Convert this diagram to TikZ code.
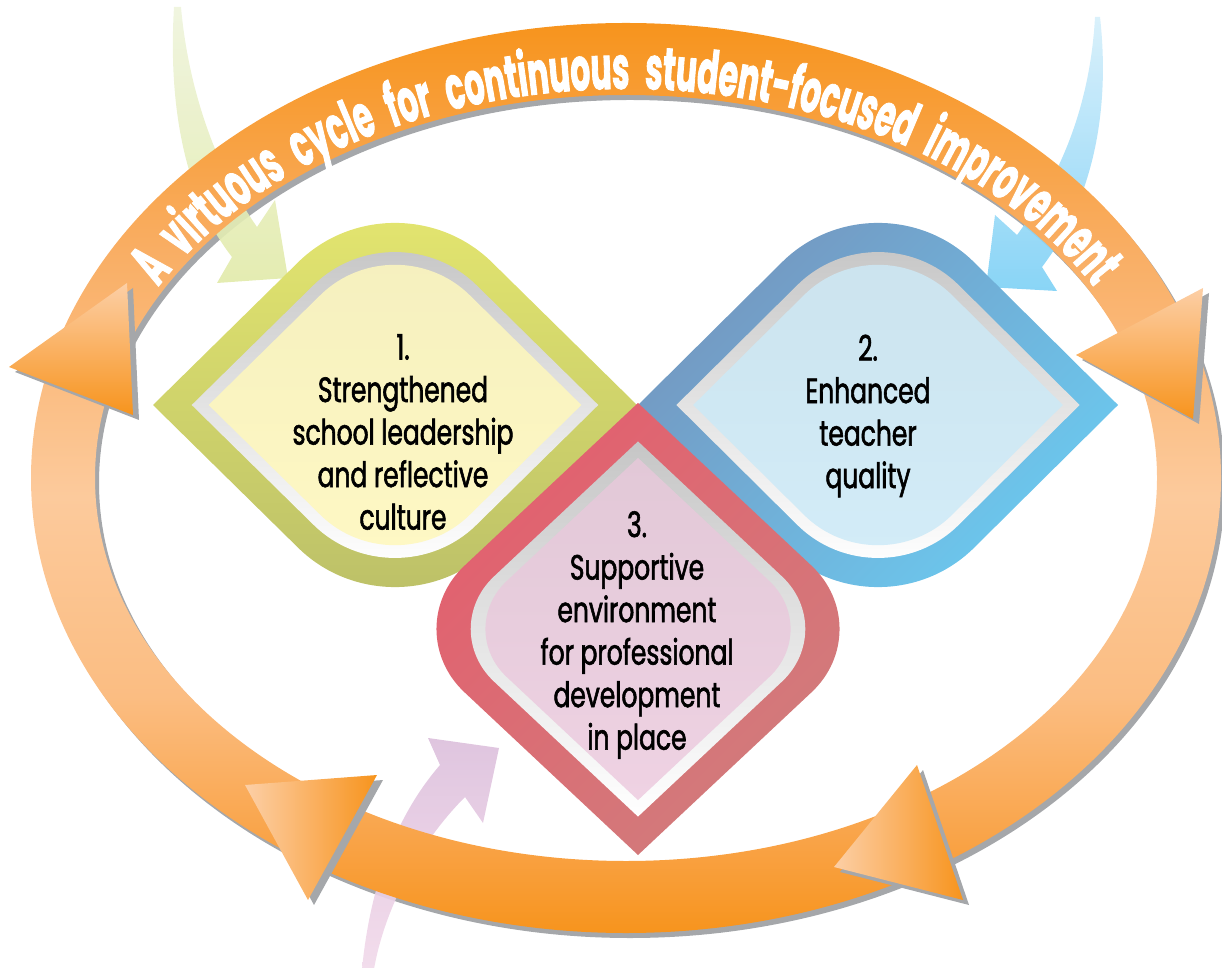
\documentclass[tikz,border=0pt]{standalone}
\usepackage{fontspec}
\usepackage[HTML]{xcolor}
\usepackage{tikz}
\usetikzlibrary{calc, decorations.text}

\newfontfamily\tilefont[FakeStretch=0.71, FakeBold=1.6]{Poppins}
\newfontfamily\bandfont[FakeStretch=0.52, FakeBold=1.4, WordSpace=2.3]{Poppins}

\definecolor{ringdark}{HTML}{F7941D}
\definecolor{ringmid}{HTML}{F9AE64}
\definecolor{ringlight}{HTML}{FCCA9C}
\definecolor{ringlow}{HTML}{FBBD82}
\definecolor{ringbase}{HTML}{F9A244}
\definecolor{tiplight}{HTML}{FCCFA6}
\definecolor{shadowgray}{HTML}{A5A7AA}
\definecolor{yeltop}{HTML}{E3E56F}
\definecolor{yelbot}{HTML}{BCC068}
\definecolor{yelfill}{HTML}{FEF8C4}
\definecolor{blutop}{HTML}{7496BF}
\definecolor{blubot}{HTML}{6BCAF0}
\definecolor{blufill}{HTML}{D3ECF8}
\definecolor{redtop}{HTML}{E35F6E}
\definecolor{redbot}{HTML}{D17C7C}
\definecolor{redfill}{HTML}{EFD2E3}
\definecolor{grnhead}{HTML}{E1EAA9}
\definecolor{grntail}{HTML}{EEF4DC}
\definecolor{cyahead}{HTML}{7CD0F5}
\definecolor{cyatail}{HTML}{D6EFFB}
\definecolor{pnkhead}{HTML}{DCBFDC}
\definecolor{pnktail}{HTML}{F1D9EA}

\pgfdeclareverticalshading{ringshade}{100bp}{color(0bp)=(ringdark); color(25bp)=(ringdark); color(29.7bp)=(ringbase); color(38bp)=(ringlow); color(49bp)=(ringlight); color(62.5bp)=(ringmid); color(75bp)=(ringdark); color(100bp)=(ringdark)}

% tile rounded at top and bottom: half width, half height, corner part, control part
\newcommand{\tilepath}[4]{(-#1,0) -- ($(0,#2)!#3!(-#1,0)$) .. controls ($(0,#2)!#4!(-#1,0)$) and ($(0,#2)!#4!(#1,0)$) .. ($(0,#2)!#3!(#1,0)$) -- (#1,0) -- ($(0,-#2)!#3!(#1,0)$) .. controls ($(0,-#2)!#4!(#1,0)$) and ($(0,-#2)!#4!(-#1,0)$) .. ($(0,-#2)!#3!(-#1,0)$) -- cycle}
% tile rounded at left and right
\newcommand{\tilepathv}[4]{(0,-#2) -- ($(-#1,0)!#3!(0,-#2)$) .. controls ($(-#1,0)!#4!(0,-#2)$) and ($(-#1,0)!#4!(0,#2)$) .. ($(-#1,0)!#3!(0,#2)$) -- (0,#2) -- ($(#1,0)!#3!(0,#2)$) .. controls ($(#1,0)!#4!(0,#2)$) and ($(#1,0)!#4!(0,-#2)$) .. ($(#1,0)!#3!(0,-#2)$) -- cycle}

\tikzset{
  tiletext/.style={align=center, inner sep=0pt, font=\tilefont\fontsize{20}{24.2}\selectfont},
  bevel/.style={top color=gray!45, bottom color=white},
  tipshadow/.style={fill=shadowgray, shift={(6,-5)}}
}

\begin{document}
\begin{tikzpicture}[x=0.02cm, y=0.02cm]
\useasboundingbox (0,0) rectangle (1222,967);
\coordinate (ringc) at (626,489);

% shadow of the cycle
\fill[shadowgray, even odd rule] ([shift={(4,-5)}]ringc) ellipse [x radius=595, y radius=455]
  ([shift={(4,-5)}]ringc) ellipse [x radius=531, y radius=383];

% incoming arrows
\shade[top color=grntail, bottom color=grnhead, opacity=0.9] (174,960) .. controls (168,860) and (185,770) .. (232,710)
  -- (217,684) -- (288,689) -- (275,767) -- (257,740) .. controls (215,800) and (188,880) .. (181,960) -- cycle;
\shade[top color=cyatail, bottom color=cyahead, opacity=0.9] (1100,950) .. controls (1110,860) and (1095,770) .. (1042,700)
  -- (1057,676) -- (986,680) -- (995,752) -- (1017,732) .. controls (1060,790) and (1090,860) .. (1095,950) -- cycle;
\shade[top color=pnkhead, bottom color=pnktail, opacity=0.9] (362,-2) .. controls (370,80) and (395,150) .. (440,202)
  -- (428,229) -- (499,219) -- (483,144) -- (465,170) .. controls (420,125) and (385,60) .. (374,-2) -- cycle;

% the cycle
\shade[shading=ringshade, even odd rule] (ringc) ellipse [x radius=595, y radius=455]
  (ringc) ellipse [x radius=531, y radius=383];
\path[decorate, decoration={text along path, text align=center,
  text={|\bandfont\bfseries\fontsize{34}{40}\selectfont\color{white}|A virtuous cycle for continuous student-focused improvement}}]
  ([shift={(155:537 and 389)}]ringc) arc [start angle=155, end angle=25, x radius=537, y radius=389];

% arrow tips on the cycle
\fill[tipshadow] (9,600) -- (127,684) -- (133,552) -- cycle;
\shade[top color=tiplight, bottom color=ringdark] (9,600) -- (127,684) -- (133,552) -- cycle;
\fill[tipshadow] (1076,612) -- (1203,679) -- (1193,548) -- cycle;
\shade[top color=tiplight, bottom color=ringdark] (1076,612) -- (1203,679) -- (1193,548) -- cycle;
\fill[tipshadow] (245,182) -- (377,192) -- (308,67) -- cycle;
\shade[left color=tiplight, right color=ringdark] (245,182) -- (377,192) -- (308,67) -- cycle;
\fill[tipshadow] (917,202) -- (834,100) -- (963,67) -- cycle;
\shade[left color=tiplight, right color=ringdark] (917,202) -- (834,100) -- (963,67) -- cycle;

% tile 1
\begin{scope}[shift={(395,562)}]
  \shade[top color=yeltop, bottom color=yelbot] \tilepath{242}{238}{0.4}{0.18};
  \shade[bevel, scale=0.84] \tilepath{242}{238}{0.4}{0.18};
  \shade[top color=yelfill!93!gray, middle color=yelfill, bottom color=yelfill, scale=0.77] \tilepath{242}{238}{0.4}{0.18};
\end{scope}
% tile 2
\begin{scope}[shift={(878,562)}]
  \shade[top color=blutop, bottom color=blubot, shading angle=45] \tilepath{240}{238}{0.4}{0.18};
  \shade[bevel, scale=0.84] \tilepath{240}{238}{0.4}{0.18};
  \shade[top color=blufill!92!gray, middle color=blufill, bottom color=blufill, scale=0.77] \tilepath{240}{238}{0.4}{0.18};
\end{scope}
% tile 3
\begin{scope}[shift={(638,338)}]
  \shade[top color=redtop, bottom color=redbot, shading angle=45] \tilepathv{241}{226}{0.28}{0.125};
  \shade[bevel, scale=0.83] \tilepathv{241}{226}{0.28}{0.125};
  \shade[top color=redfill!88!gray, middle color=redfill, bottom color=redfill, scale=0.757] \tilepathv{241}{226}{0.28}{0.125};
\end{scope}

\node[tiletext] (lead) at (403,535) {1.\\Strengthened\\school leadership\\and reflective\\culture};
\node[tiletext] (teach) at (868,551) {2.\\Enhanced\\teacher\\quality};
\node[tiletext] (envir) at (637,332) {3.\\Supportive\\environment\\for professional\\development\\in place};
\end{tikzpicture}
\end{document}
